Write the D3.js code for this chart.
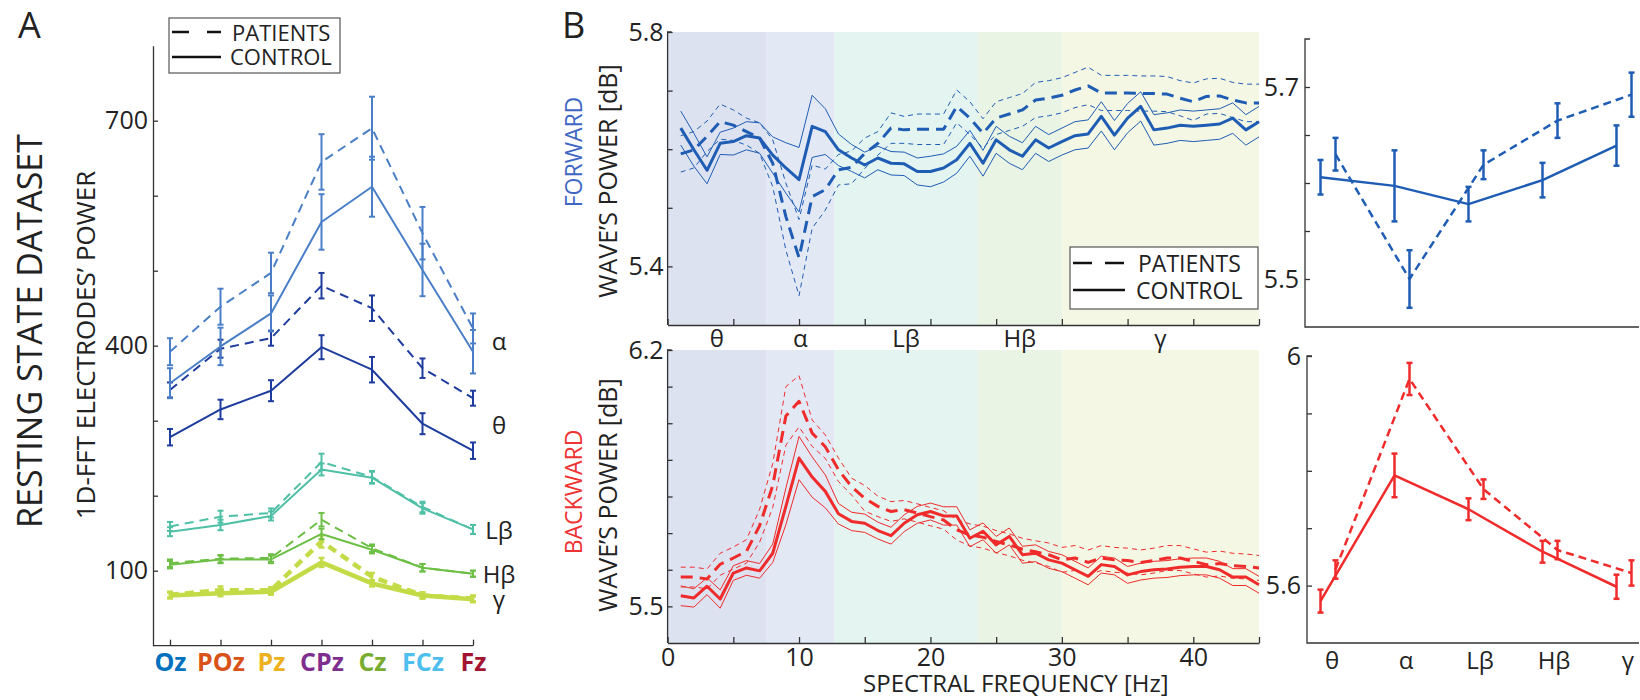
<!DOCTYPE html>
<html>
<head>
<meta charset="utf-8">
<script src="https://cdn.jsdelivr.net/npm/d3@7"></script>
<style>
body { margin: 0; background: #fff; }
text { font-family: "Open Sans", sans-serif; fill: #222; }
.axis path, .axis line { stroke: #333; stroke-width: 1.3; }
.axis text { font-family: "Open Sans", sans-serif; fill: #222; }
</style>
</head>
<body>
<svg id="fig" width="1640" height="700"></svg>
<script>
// ---------------- data: panel A (electrode power) ----------------
var electrodes = ["Oz", "POz", "Pz", "CPz", "Cz", "FCz", "Fz"];
var electrodeColors = ["#0072BD", "#D95319", "#EDB120", "#7E2F8E", "#77AC30", "#4DBEEE", "#A2142F"];
var aTicks = [100, 200, 300, 400, 500, 600, 700];
var aTickLabels = [100, 400, 700];

var alphaControl = [350, 399, 443, 565, 612, 501, 392];
var alphaControlErr = [20, 25, 24, 37, 40, 35, 29];
var alphaPatients = [392, 452, 497, 645, 690, 550, 423];
var alphaPatientsErr = [18, 24, 27, 37, 42, 35, 20];
var thetaControl = [278, 315, 340, 398, 368, 296, 260];
var thetaControlErr = [11, 13, 14, 16, 17, 14, 11];
var thetaPatients = [341, 396, 410, 480, 450, 370, 330];
var thetaPatientsErr = [10, 12, 10, 17, 17, 13, 10];
var lowBetaControl = [152, 161, 173, 235, 224, 183, 155];
var lowBetaControlErr = [6, 7, 6, 8, 8, 7, 6];
var lowBetaPatients = [159, 172, 177, 245, 225, 185, 155];
var lowBetaPatientsErr = [6, 8, 6, 11, 8, 7, 6];
var highBetaControl = [108, 115, 115, 149, 128, 104, 96];
var highBetaControlErr = [5, 5, 5, 7, 5, 5, 4];
var highBetaPatients = [110, 116, 117, 168, 130, 104, 96];
var highBetaPatientsErr = [5, 5, 5, 9, 5, 5, 4];
var gammaControl = [67, 70, 72, 111, 83, 67, 62];
var gammaControlErr = [4, 4, 4, 6, 4, 4, 4];
var gammaPatients = [68, 74, 74, 139, 92, 67, 63];
var gammaPatientsErr = [4, 5, 4, 8, 5, 4, 4];

// ---------------- data: panel B (spectra) ----------------
var freqs = [1, 2, 3, 4, 5, 6, 7, 8, 9, 10, 11, 12, 13, 14, 15, 16, 17, 18, 19, 20, 21, 22, 23,
             24, 25, 26, 27, 28, 29, 30, 31, 32, 33, 34, 35, 36, 37, 38, 39, 40, 41, 42, 43, 44, 45];
var bandNames = ["θ", "α", "Lβ", "Hβ", "γ"];
var bandEdges = [0, 7.5, 12.7, 23.6, 30, 45];

var fwdControl = [5.636, 5.599, 5.564, 5.610, 5.613, 5.623, 5.619, 5.590, 5.568, 5.548, 5.639, 5.630,
                  5.599, 5.585, 5.573, 5.585, 5.576, 5.575, 5.562, 5.562, 5.568, 5.582, 5.610, 5.576,
                  5.616, 5.599, 5.588, 5.616, 5.602, 5.613, 5.623, 5.626, 5.656, 5.624, 5.653, 5.673,
                  5.633, 5.636, 5.641, 5.639, 5.641, 5.643, 5.653, 5.633, 5.647];
var fwdControlSe = [0.029, 0.028, 0.023, 0.019, 0.023, 0.024, 0.026, 0.031, 0.043, 0.055, 0.053, 0.039,
                    0.027, 0.023, 0.022, 0.020, 0.020, 0.020, 0.023, 0.026, 0.024, 0.023, 0.022, 0.022,
                    0.023, 0.023, 0.023, 0.023, 0.023, 0.023, 0.024, 0.024, 0.025, 0.025, 0.025, 0.025,
                    0.026, 0.026, 0.026, 0.026, 0.026, 0.026, 0.026, 0.026, 0.026];
var fwdPatients = [5.592, 5.599, 5.622, 5.647, 5.641, 5.630, 5.619, 5.576, 5.485, 5.415, 5.519, 5.531,
                   5.565, 5.569, 5.593, 5.610, 5.636, 5.633, 5.634, 5.634, 5.634, 5.673, 5.653, 5.627,
                   5.653, 5.660, 5.667, 5.684, 5.687, 5.692, 5.701, 5.708, 5.696, 5.696, 5.696, 5.695,
                   5.695, 5.694, 5.687, 5.681, 5.690, 5.691, 5.684, 5.679, 5.679];
var fwdPatientsSe = [0.031, 0.031, 0.026, 0.030, 0.026, 0.023, 0.026, 0.040, 0.057, 0.065, 0.054, 0.035,
                     0.026, 0.028, 0.026, 0.020, 0.026, 0.023, 0.026, 0.026, 0.026, 0.028, 0.028, 0.025,
                     0.028, 0.028, 0.028, 0.030, 0.030, 0.030, 0.030, 0.032, 0.030, 0.030, 0.030, 0.030,
                     0.030, 0.030, 0.030, 0.032, 0.030, 0.030, 0.030, 0.032, 0.032];
var bwdControl = [5.529, 5.523, 5.555, 5.520, 5.591, 5.605, 5.597, 5.645, 5.773, 5.905, 5.853, 5.814,
                  5.753, 5.732, 5.727, 5.707, 5.693, 5.727, 5.750, 5.759, 5.747, 5.747, 5.686, 5.705,
                  5.668, 5.691, 5.641, 5.645, 5.627, 5.618, 5.600, 5.582, 5.614, 5.609, 5.586, 5.595,
                  5.600, 5.602, 5.607, 5.609, 5.609, 5.600, 5.580, 5.580, 5.559];
var bwdControlSe = [0.027, 0.025, 0.023, 0.025, 0.020, 0.020, 0.020, 0.025, 0.050, 0.059, 0.055, 0.045,
                    0.028, 0.025, 0.025, 0.023, 0.023, 0.023, 0.023, 0.023, 0.025, 0.025, 0.023, 0.023,
                    0.023, 0.023, 0.023, 0.023, 0.023, 0.023, 0.023, 0.023, 0.023, 0.023, 0.023, 0.023,
                    0.023, 0.023, 0.023, 0.023, 0.023, 0.023, 0.023, 0.023, 0.023];
var bwdPatients = [5.580, 5.580, 5.575, 5.615, 5.632, 5.650, 5.720, 5.830, 6.020, 6.060, 5.973, 5.936,
                   5.873, 5.827, 5.795, 5.773, 5.759, 5.764, 5.755, 5.745, 5.736, 5.709, 5.695, 5.689,
                   5.677, 5.668, 5.656, 5.649, 5.641, 5.627, 5.632, 5.620, 5.632, 5.627, 5.625, 5.620,
                   5.625, 5.632, 5.632, 5.623, 5.614, 5.617, 5.611, 5.609, 5.605];
var bwdPatientsSe = [0.027, 0.027, 0.027, 0.030, 0.030, 0.032, 0.045, 0.060, 0.080, 0.070, 0.036, 0.032,
                     0.032, 0.023, 0.035, 0.028, 0.027, 0.025, 0.025, 0.025, 0.025, 0.028, 0.030, 0.030,
                     0.030, 0.030, 0.030, 0.030, 0.032, 0.034, 0.034, 0.034, 0.034, 0.034, 0.034, 0.034,
                     0.034, 0.034, 0.034, 0.034, 0.034, 0.034, 0.034, 0.034, 0.034];

// band averages (right-hand panels)
var fwdBandControl = [5.606, 5.597, 5.578, 5.603, 5.639];
var fwdBandControlErr = [0.018, 0.037, 0.018, 0.018, 0.021];
var fwdBandPatients = [5.630, 5.500, 5.619, 5.665, 5.692];
var fwdBandPatientsErr = [0.017, 0.030, 0.015, 0.018, 0.023];
var bwdBandControl = [5.573, 5.792, 5.733, 5.659, 5.598];
var bwdBandControlErr = [0.020, 0.038, 0.019, 0.019, 0.021];
var bwdBandPatients = [5.628, 5.960, 5.768, 5.662, 5.622];
var bwdBandPatientsErr = [0.016, 0.028, 0.017, 0.016, 0.022];

// ---------------- drawing ----------------
var svg = d3.select("#fig");
var blue = "#1f5db5", red = "#f02b2b";

function errorBars(g, xs, ys, vals, errs, color, w, cap) {
  vals.forEach(function (v, i) {
    var x = xs(i), y0 = ys(v - errs[i]), y1 = ys(v + errs[i]);
    g.append("line").attr("x1", x).attr("x2", x).attr("y1", y0).attr("y2", y1)
      .attr("stroke", color).attr("stroke-width", w);
    [y0, y1].forEach(function (yy) {
      g.append("line").attr("x1", x - cap).attr("x2", x + cap).attr("y1", yy).attr("y2", yy)
        .attr("stroke", color).attr("stroke-width", w);
    });
  });
}

function polyline(g, xs, ys, vals, color, w, dash) {
  var line = d3.line().x(function (d, i) { return xs(i); }).y(function (d) { return ys(d); });
  g.append("path").datum(vals).attr("d", line).attr("fill", "none")
    .attr("stroke", color).attr("stroke-width", w).attr("stroke-dasharray", dash || null)
    .attr("stroke-linejoin", "round");
}

// ===== Panel A =====
var xA = d3.scalePoint().domain(electrodes).range([170, 473]);
var yA = d3.scaleLinear().domain([0, 800]).range([645.7, 45.7]);
var gA = svg.append("g");

var axAy = gA.append("g").attr("class", "axis").attr("transform", "translate(153,0)")
  .call(d3.axisLeft(yA).tickValues(aTicks).tickSizeInner(-5).tickSizeOuter(0).tickPadding(5)
    .tickFormat(function (d) { return aTickLabels.indexOf(d) >= 0 ? d : ""; }));
axAy.selectAll("text").style("font-size", "25px");

var axAx = gA.append("g").attr("class", "axis").attr("transform", "translate(0,645.7)")
  .call(d3.axisBottom(xA).tickSizeInner(-6).tickSizeOuter(0).tickPadding(8));
axAx.select(".domain").remove();
axAx.append("line").attr("x1", 153).attr("x2", xA("Fz")).attr("y1", 0).attr("y2", 0)
  .attr("stroke", "#333").attr("stroke-width", 1.3);
axAx.selectAll("text").style("font-size", "25px").style("font-weight", "bold")
  .style("fill", function (d, i) { return electrodeColors[i]; });

var aSeries = [
  { c: alphaControl, ce: alphaControlErr, p: alphaPatients, pe: alphaPatientsErr, col: "#4a7fc8", w: 2, label: "α" },
  { c: thetaControl, ce: thetaControlErr, p: thetaPatients, pe: thetaPatientsErr, col: "#1d3c9e", w: 2, label: "θ" },
  { c: lowBetaControl, ce: lowBetaControlErr, p: lowBetaPatients, pe: lowBetaPatientsErr, col: "#4fc0a6", w: 2, label: "Lβ" },
  { c: highBetaControl, ce: highBetaControlErr, p: highBetaPatients, pe: highBetaPatientsErr, col: "#6dbf45", w: 2, label: "Hβ" },
  { c: gammaControl, ce: gammaControlErr, p: gammaPatients, pe: gammaPatientsErr, col: "#c4db48", w: 4.5, label: "γ" }
];
var xAi = function (i) { return xA(electrodes[i]); };
aSeries.slice().reverse().forEach(function (s) {
  var g = gA.append("g");
  polyline(g, xAi, yA, s.p, s.col, s.w, "9,6");
  errorBars(g, xAi, yA, s.p, s.pe, s.col, s.w > 3 ? 2.5 : 2, 3);
  polyline(g, xAi, yA, s.c, s.col, s.w);
  errorBars(g, xAi, yA, s.c, s.ce, s.col, s.w > 3 ? 2.5 : 2, 3);
  var n = s.c.length - 1;
  gA.append("text").attr("x", 499).attr("y", yA((s.c[n] + s.p[n]) / 2))
    .attr("text-anchor", "middle").attr("dominant-baseline", "central")
    .style("font-size", "24px").text(s.label);
});

// legend A
var legA = gA.append("g");
legA.append("rect").attr("x", 169).attr("y", 18).attr("width", 171).attr("height", 55)
  .attr("fill", "#fff").attr("stroke", "#555").attr("stroke-width", 1.2);
legA.append("line").attr("x1", 172).attr("x2", 221).attr("y1", 32).attr("y2", 32)
  .attr("stroke", "#111").attr("stroke-width", 2.5).attr("stroke-dasharray", "17,18");
legA.append("line").attr("x1", 172).attr("x2", 221).attr("y1", 57).attr("y2", 57)
  .attr("stroke", "#111").attr("stroke-width", 2.5);
legA.append("text").attr("x", 232).attr("y", 41).style("font-size", "22px").text("PATIENTS");
legA.append("text").attr("x", 230).attr("y", 65).style("font-size", "22px").text("CONTROL");

svg.append("text").attr("x", 18).attr("y", 38).style("font-size", "36px").text("A");
svg.append("text").attr("transform", "translate(42,331) rotate(-90)").attr("text-anchor", "middle")
  .style("font-size", "34px").text("RESTING STATE DATASET");
svg.append("text").attr("transform", "translate(95,345) rotate(-90)").attr("text-anchor", "middle")
  .style("font-size", "26px").text("1D-FFT ELECTRODES’ POWER");

// ===== Panel B (spectra) =====
var xB = d3.scaleLinear().domain([0, 45]).range([667.6, 1259]);
var yTop = d3.scaleLinear().domain([5.3, 5.8]).range([325, 32]);
var yBot = d3.scaleLinear().domain([5.4, 6.2]).range([643, 350]);
var bandFills = ["#dde2f0", "#e3e8f5", "#e3f4f1", "#e9f4e5", "#f4f7e3"];
var xBi = function (i) { return xB(freqs[i]); };

function spectrum(yS, top, bottom, tickVals, tickLabs, ctrl, ctrlSe, pat, patSe, color, showX) {
  var g = svg.append("g");
  bandNames.forEach(function (b, i) {
    g.append("rect").attr("x", xB(bandEdges[i])).attr("y", top)
      .attr("width", xB(bandEdges[i + 1]) - xB(bandEdges[i])).attr("height", bottom - top)
      .attr("fill", bandFills[i]);
  });
  var up = function (arr, se, s) { return arr.map(function (v, i) { return v + s * se[i]; }); };
  polyline(g, xBi, yS, up(pat, patSe, 1), color, 1, "5,4");
  polyline(g, xBi, yS, up(pat, patSe, -1), color, 1, "5,4");
  polyline(g, xBi, yS, up(ctrl, ctrlSe, 1), color, 1);
  polyline(g, xBi, yS, up(ctrl, ctrlSe, -1), color, 1);
  polyline(g, xBi, yS, pat, color, 3, "12,7");
  polyline(g, xBi, yS, ctrl, color, 3);

  var ay = g.append("g").attr("class", "axis").attr("transform", "translate(" + xB(0) + ",0)")
    .call(d3.axisLeft(yS).tickValues(tickVals).tickSizeInner(-5).tickSizeOuter(0).tickPadding(4)
      .tickFormat(function (d) { return tickLabs.indexOf(d) >= 0 ? d : ""; }));
  ay.selectAll("text").style("font-size", "25px");
  ay.select(".domain").attr("d", "M0," + bottom + "V" + top + "H4");
  var ax = g.append("g").attr("class", "axis").attr("transform", "translate(0," + bottom + ")")
    .call(d3.axisBottom(xB).tickValues([0, 5, 10, 15, 20, 25, 30, 35, 40, 45]).tickSizeInner(-6)
      .tickSizeOuter(0).tickPadding(5)
      .tickFormat(function (d) { return showX && d % 10 === 0 ? d : ""; }));
  ax.selectAll("text").style("font-size", "25px");
  return g;
}

spectrum(yTop, 32, 325, [5.4, 5.5, 5.6, 5.7, 5.8], [5.4, 5.8],
  fwdControl, fwdControlSe, fwdPatients, fwdPatientsSe, blue, false);
spectrum(yBot, 350, 643, [5.5, 5.6, 5.7, 5.8, 5.9, 6.0, 6.1, 6.2], [5.5, 6.2],
  bwdControl, bwdControlSe, bwdPatients, bwdPatientsSe, red, true);

// band names under the top panel
bandNames.forEach(function (b, i) {
  svg.append("text").attr("x", xB((bandEdges[i] + bandEdges[i + 1]) / 2)).attr("y", 347)
    .attr("text-anchor", "middle").style("font-size", "24px").text(b);
});

// legend B
var legB = svg.append("g");
legB.append("rect").attr("x", 1070).attr("y", 247).attr("width", 188).attr("height", 62)
  .attr("fill", "#fff").attr("stroke", "#555").attr("stroke-width", 1.2);
legB.append("line").attr("x1", 1073).attr("x2", 1125).attr("y1", 263).attr("y2", 263)
  .attr("stroke", "#111").attr("stroke-width", 2.5).attr("stroke-dasharray", "19,13");
legB.append("line").attr("x1", 1073).attr("x2", 1125).attr("y1", 290).attr("y2", 290)
  .attr("stroke", "#111").attr("stroke-width", 2.5);
legB.append("text").attr("x", 1138).attr("y", 272).style("font-size", "23px").text("PATIENTS");
legB.append("text").attr("x", 1136).attr("y", 299).style("font-size", "23px").text("CONTROL");

svg.append("text").attr("x", 562).attr("y", 38).style("font-size", "36px").text("B");
svg.append("text").attr("transform", "translate(582,152) rotate(-90)").attr("text-anchor", "middle")
  .style("font-size", "23px").style("fill", "#3f67c4").text("FORWARD");
svg.append("text").attr("transform", "translate(582,492) rotate(-90)").attr("text-anchor", "middle")
  .style("font-size", "23px").style("fill", "#ee3333").text("BACKWARD");
svg.append("text").attr("transform", "translate(617,181) rotate(-90)").attr("text-anchor", "middle")
  .style("font-size", "25px").text("WAVE’S POWER [dB]");
svg.append("text").attr("transform", "translate(617,495) rotate(-90)").attr("text-anchor", "middle")
  .style("font-size", "25px").text("WAVE’S POWER [dB]");
svg.append("text").attr("x", xB(26.5)).attr("y", 692).attr("text-anchor", "middle")
  .style("font-size", "24px").text("SPECTRAL FREQUENCY [Hz]");

// ===== Right panels (band averages) =====
var xR = d3.scalePoint().domain(bandNames).range([1328, 1624]);
var yRT = d3.scaleLinear().domain([5.45, 5.75]).range([327, 39]);
var yRB = d3.scaleLinear().domain([5.5, 6.0]).range([643, 356]);

function bandPanel(yS, axisX, top, bottom, tickVals, tickLabs, fmt, ctrl, ctrlErr, pat, patErr, color, showLabels) {
  var g = svg.append("g");
  var xc = function (i) { return xR(bandNames[i]) - 7.5; };
  var xp = function (i) { return xR(bandNames[i]) + 7.5; };
  polyline(g, xp, yS, pat, color, 2.5, "8,5");
  errorBars(g, xp, yS, pat, patErr, color, 2.5, 3);
  polyline(g, xc, yS, ctrl, color, 2.5);
  errorBars(g, xc, yS, ctrl, ctrlErr, color, 2.5, 3);
  var ay = g.append("g").attr("class", "axis").attr("transform", "translate(" + axisX + ",0)")
    .call(d3.axisLeft(yS).tickValues(tickVals).tickSizeInner(-5).tickSizeOuter(0).tickPadding(6)
      .tickFormat(function (d) { return tickLabs.indexOf(d) >= 0 ? fmt(d) : ""; }));
  ay.selectAll("text").style("font-size", "25px");
  ay.select(".domain").attr("d", "M5," + top + "H0V" + bottom + "H" + (1639 - axisX));
  if (showLabels) {
    bandNames.forEach(function (b) {
      g.append("text").attr("x", xR(b) + 4).attr("y", 669).attr("text-anchor", "middle")
        .style("font-size", "24px").text(b);
    });
  }
}

bandPanel(yRT, 1305, 39, 327, [5.5, 5.55, 5.6, 5.65, 5.7], [5.5, 5.7], d3.format(".1f"),
  fwdBandControl, fwdBandControlErr, fwdBandPatients, fwdBandPatientsErr, blue, false);
bandPanel(yRB, 1307, 356, 643, [5.6, 5.7, 5.8, 5.9, 6.0], [5.6, 6.0], function (d) { return d === 6 ? "6" : d3.format(".1f")(d); },
  bwdBandControl, bwdBandControlErr, bwdBandPatients, bwdBandPatientsErr, red, true);
</script>
</body>
</html>
